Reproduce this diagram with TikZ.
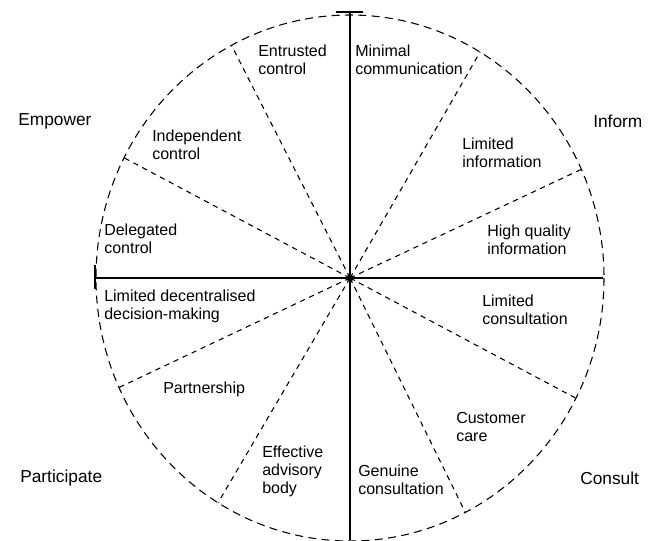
\documentclass[tikz,border=0pt]{standalone}
\usepackage{fontspec}
\setmainfont{Liberation Sans}
\usepackage{tikz}

\begin{document}
\begin{tikzpicture}[
  x=0.75pt, y=-0.75pt,
  lbl/.style={anchor=west, align=left, inner sep=0pt,
              font=\fontsize{12}{13.5}\selectfont},
  quad/.style={lbl, font=\fontsize{13}{15}\selectfont},
  axis/.style={line width=1.5pt},
  rim/.style={line width=0.8pt, dash pattern=on 6pt off 4pt},
  spoke/.style={line width=0.8pt, dash pattern=on 4pt off 3.5pt}
]
\useasboundingbox (0,0) rectangle (648,540);
\coordinate (c) at (350,278);

% wheel
\draw[rim] (c) ellipse [x radius=254, y radius=263];
\foreach \a in {24.4,59.2,117.8,152.8,204.6,238.7,297,332.8}
  \draw[spoke] (c) -- +(-\a:254 and 263);

% axes
\coordinate (top) at (350,12);
\coordinate (bot) at (350,540);
\coordinate (lft) at (95,278);
\coordinate (rgt) at (603,278);
\draw[axis] (top) -- (bot);
\draw[axis] (lft) -- (rgt);
\draw[axis] ([xshift=-14*0.75pt]top) -- ([xshift=13*0.75pt]top);
\draw[axis] ([yshift=13*0.75pt]lft) -- ([yshift=-11*0.75pt]lft);
\fill (c) circle [radius=3.5];

% quadrants
\node[quad] (empower) at (18,121) {Empower};
\node[quad] (inform) at (593,121) {Inform};
\node[quad] (participate) at (20,478) {Participate};
\node[quad] (consult) at (580,478) {Consult};

% sectors
\node[lbl] (entrusted) at (258,60) {Entrusted\\control};
\node[lbl] (minimal) at (355,60) {Minimal\\communication};
\node[lbl] (independent) at (152,145) {Independent\\control};
\node[lbl] (liminfo) at (462,153) {Limited\\information};
\node[lbl] (delegated) at (104,239) {Delegated\\control};
\node[lbl] (highq) at (487,240) {High quality\\information};
\node[lbl] (decentral) at (104,306) {Limited decentralised\\decision-making};
\node[lbl] (limcons) at (482,310) {Limited\\consultation};
\node[lbl] (partner) at (163,389) {Partnership};
\node[lbl] (customer) at (456,427) {Customer\\care};
\node[lbl] (advisory) at (262,471) {Effective\\advisory\\body};
\node[lbl] (genuine) at (358,480) {Genuine\\consultation};
\end{tikzpicture}
\end{document}
